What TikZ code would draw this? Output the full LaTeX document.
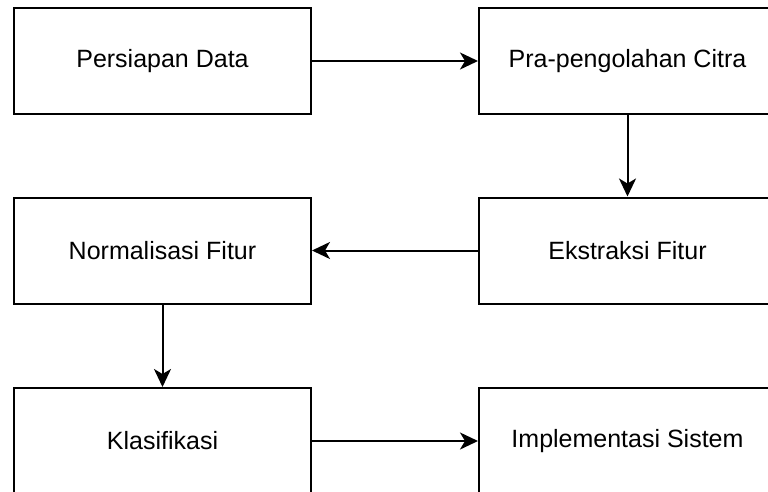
\documentclass[tikz,border=0pt]{standalone}
\usepackage{fontspec}
\setmainfont{Liberation Sans}
\usetikzlibrary{arrows.meta}
\begin{document}
\begin{tikzpicture}[x=1pt,y=-1pt]
\tikzset{
  box/.style={draw, line width=2pt, minimum width=297pt, minimum height=106pt, inner sep=0pt, font=\fontsize{25}{30}\selectfont},
  conn/.style={draw, line width=2pt, -{Stealth[length=18pt,width=17pt,inset=5pt]}}}
\useasboundingbox (0,0) rectangle (768,491);
\clip (0,0) rectangle (768,491);
\node[box] (a) at (162.5,61) {Persiapan Data};
\node[box] (b) at (627.5,61) {Pra-pengolahan Citra};
\node[box] (c) at (627.5,250.5) {Ekstraksi Fitur};
\node[box] (d) at (162.5,250.5) {Normalisasi Fitur};
\node[box] (e) at (162.5,441) {Klasifikasi};
\node[box] (f) at (627.5,441) {Implementasi Sistem};
\path[conn] (a) -- (b);
\path[conn] (b) -- (c);
\path[conn] (c) -- (d);
\path[conn] (d) -- (e);
\path[conn] (e) -- (f);
\end{tikzpicture}
\end{document}
